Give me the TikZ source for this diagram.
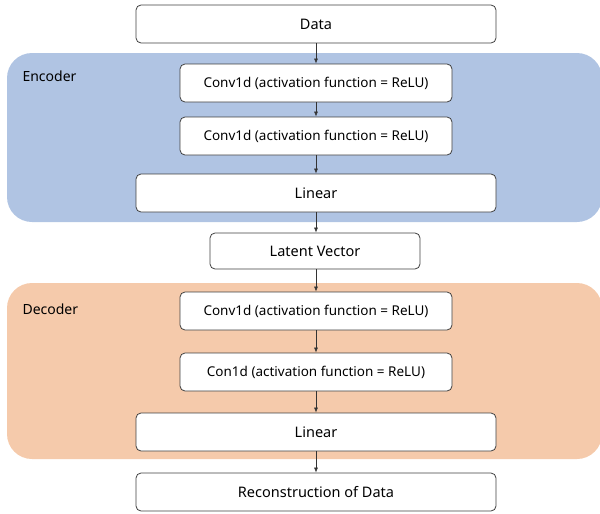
\documentclass[tikz,border=0pt]{standalone}
\usepackage{fontspec}
\setmainfont{Noto Sans}
\usepackage{xcolor}
\usetikzlibrary{arrows.meta}
\definecolor{encblue}{RGB}{176,196,227}
\definecolor{decpeach}{RGB}{245,202,171}
\definecolor{boxline}{RGB}{64,64,64}

\begin{document}
\begin{tikzpicture}[x=1pt,y=-1pt,
  layer/.style={rectangle, rounded corners=5pt, draw=boxline, fill=white, line width=0.8pt, minimum height=38pt, minimum width=#1, font=\fontsize{14.5}{16}\selectfont, inner sep=0pt},
  conv/.style={layer=272pt, font=\fontsize{13.5}{16}\selectfont},
  flow/.style={-{Latex[length=5pt,width=4pt]}, draw=black!80, line width=0.6pt},
  panel/.style={rounded corners=25pt, draw=none}]
\useasboundingbox (0,0) rectangle (600,514);
% encoder and decoder panels
\fill[panel, fill=encblue] (7,53) rectangle (602,222);
\fill[panel, fill=decpeach] (7,283) rectangle (602,459);
\node[anchor=west, font=\fontsize{14}{16}\selectfont] (enclabel) at (19,76) {Encoder};
\node[anchor=west, font=\fontsize{14}{16}\selectfont] (declabel) at (19,309) {Decoder};
% layers
\node[layer=360pt] (data) at (316,24) {Data};
\node[conv] (enc1) at (316,83) {Conv1d (activation function = ReLU)};
\node[conv] (enc2) at (316,136) {Conv1d (activation function = ReLU)};
\node[layer=360pt] (enclin) at (316,193) {Linear};
\node[layer=210pt, minimum height=36pt] (latent) at (315,251) {Latent Vector};
\node[conv] (dec1) at (316,311) {Conv1d (activation function = ReLU)};
\node[conv] (dec2) at (316,372) {Con1d (activation function = ReLU)};
\node[layer=360pt] (declin) at (316,432) {Linear};
\node[layer=360pt] (recon) at (316,492) {Reconstruction of Data};
% arrows
\draw[flow] (data) -- (enc1);
\draw[flow] (enc1) -- (enc2);
\draw[flow] (enc2) -- (enclin);
\draw[flow] (enclin) -- (latent.north -| enclin.south);
\draw[flow] (latent.south -| enclin.south) -- (dec1);
\draw[flow] (dec1) -- (dec2);
\draw[flow] (dec2) -- (declin);
\draw[flow] (declin) -- (recon);
\end{tikzpicture}
\end{document}
